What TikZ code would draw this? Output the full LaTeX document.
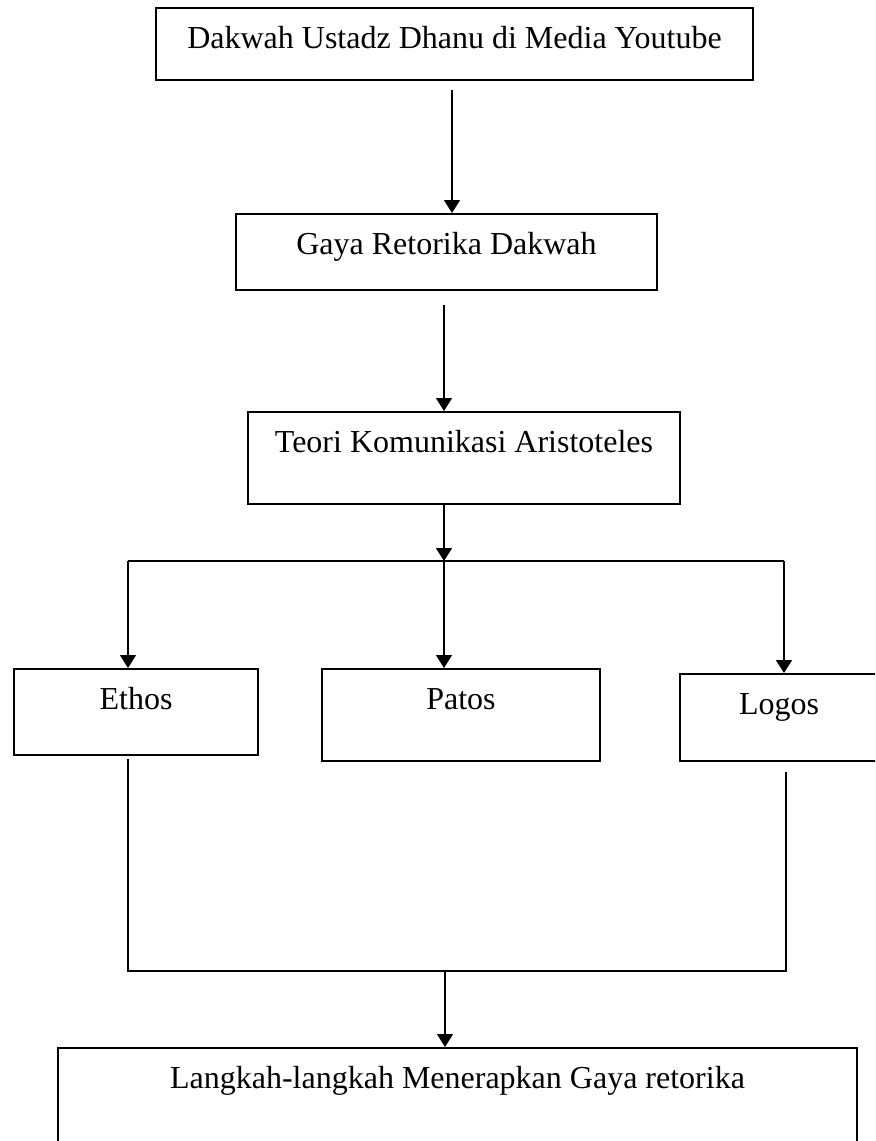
\documentclass[tikz,border=0pt]{standalone}
\usepackage{fontspec}
\setmainfont{Liberation Serif}
\usetikzlibrary{arrows.meta,positioning}

\begin{document}
\begin{tikzpicture}[% one unit = one pixel of the page, y grows downwards
			x=0.5pt,y=-0.5pt,
			box/.style={
				rectangle,draw=black,line width=1pt,
				inner xsep=0pt,inner ysep=0pt,anchor=north,
				font=\fontsize{16}{19}\selectfont,
				text height=20pt	% text sits near the top of the box
			},
			arr/.style={-{Triangle[length=6.5pt,width=8pt]},line width=0.8pt},
			bus/.style={line width=1.3pt}
		]
		\clip (0,0) rectangle (875,1141);
		\node[box,minimum width=298.5pt,text depth=16pt](dakwah) at (454.5,7){Dakwah Ustadz Dhanu di Media Youtube};
		\node[box,minimum width=210.5pt,text depth=18pt](gaya) at (446.5,213){Gaya Retorika Dakwah};
		\node[box,minimum width=216pt,text depth=26pt](teori) at (464,411){Teori Komunikasi Aristoteles};
		\node[box,minimum width=122pt,text depth=23pt](ethos) at (136,668){Ethos};
		\node[box,minimum width=139pt,text depth=26pt](patos) at (461,668){Patos};
		\node[box,minimum width=99pt,text depth=23.5pt](logos) at (779,673){Logos};
		\node[box,minimum width=399.5pt,text depth=40pt](langkah) at (457.5,1047){Langkah-langkah Menerapkan Gaya retorika};
		% free ends of the connectors
		\coordinate (a1) at (452,90);
		\coordinate (a2) at (444,305);
		\coordinate (bus) at (444,561);
		\coordinate (busL) at (128,561);
		\coordinate (busR) at (784,561);
		\coordinate (jL) at (128,759);
		\coordinate (jR) at (786,772);
		\coordinate (join) at (445,971);
		\draw[arr] (a1) -- (a1 |- gaya.north);
		\draw[arr] (a2) -- (a2 |- teori.north);
		\draw[arr] (teori.south -| bus) -- (bus);
		\draw[bus] (busL) -- (busR);
		\draw[arr] (busL) -- (busL |- ethos.north);
		\draw[arr] (bus) -- (bus |- patos.north);
		\draw[arr] (busR) -- (busR |- logos.north);
		\draw[bus] (jL) -- (jL |- join) -- (jR |- join) -- (jR);
		\draw[arr] (join) -- (join |- langkah.north);
	\end{tikzpicture}
\end{document}
